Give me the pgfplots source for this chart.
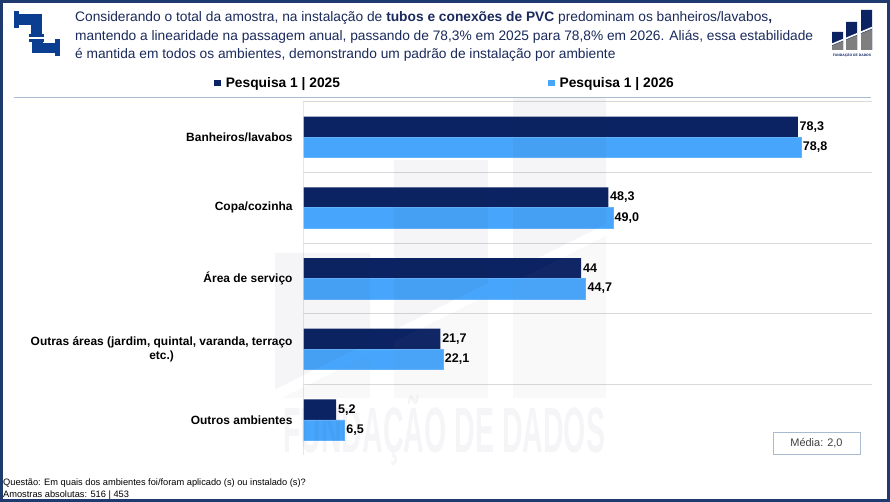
\documentclass[border=0pt]{standalone}
\usepackage{pgfplots}
\pgfplotsset{compat=1.18}
\usepackage{fontspec}
\setmainfont{Liberation Sans}
\definecolor{navy}{HTML}{0B2363}
\definecolor{lblue}{HTML}{47A6FB}
\definecolor{frame}{HTML}{1F3A6E}
\definecolor{hdr}{HTML}{1B2A5C}
\definecolor{sepl}{HTML}{A9BBD0}
\definecolor{gridc}{HTML}{D9D9D9}
\definecolor{pipe}{HTML}{0B3D91}
\definecolor{lgray}{HTML}{7F7F7F}
\definecolor{wm}{HTML}{2A2A60}
\begin{document}
\begin{tikzpicture}[x=1bp,y=1bp]
\path[use as bounding box] (0,0) rectangle (890,502);
\fill[white] (0,0) rectangle (890,502);
\begin{scope}[yshift=502bp, y=-1bp]
% left pipe icon
\fill[pipe] (14,11) rectangle (19,28);
\fill[pipe] (19,14) rectangle (40,25);
\fill[pipe] (31,14) rectangle (42,36);
\fill[pipe] (29,34) rectangle (44,37);
\fill[pipe] (29,39) rectangle (44,42);
\fill[pipe] (32,41) rectangle (43,52);
\fill[pipe] (32,43) rectangle (56,53);
\fill[pipe] (55,39) rectangle (60,56);
% right logo
\begin{scope}
\clip (832,32) rectangle (843,50) (846,22) rectangle (857,50) (861,10) rectangle (872,50);
\fill[navy] (828,5) rectangle (876,52);
\fill[lgray] (828,47.5) -- (876,27.5) -- (876,52) -- (828,52) -- cycle;
\draw[white, line width=1.6bp] (828,46) -- (876,26);
\end{scope}
\node[font=\fontsize{3.4}{4}\selectfont\bfseries, text=navy, inner sep=0] at (852,55) {FUNDAÇÃO DE DADOS};
% header text
\begin{scope}[every node/.style={anchor=base west, inner sep=0, text=hdr, font=\fontsize{13.8}{16}\selectfont}]
\node at (75,22) {Considerando o total da amostra, na instalação de \textbf{tubos e conexões de PVC} predominam os banheiros/lavabos\textbf{,}};
\node at (75,41) {mantendo a linearidade na passagem anual, passando de 78,3\% em 2025 para 78,8\% em 2026. Aliás, essa estabilidade};
\node at (75,59) {é mantida em todos os ambientes, demonstrando um padrão de instalação por ambiente};
\end{scope}
\draw[sepl, line width=0.9bp] (14,97) -- (871,97);
\end{scope}
% axis
\begin{axis}[
  at={(303.3bp,46.8bp)}, anchor=south west,
  scale only axis, width=568.4bp, height=353.5bp,
  xmin=0, xmax=90, ymin=-0.5, ymax=4.5,
  xbar, bar width=20.4bp,
  axis line style={draw=none},
  xtick=\empty,
  ytick={0,1,2,3,4},
  yticklabels={Outros ambientes,{Outras áreas (jardim, quintal, varanda, terraço\\etc.)},Área de serviço,Copa/cozinha,Banheiros/lavabos},
  yticklabel style={font=\fontsize{12}{14}\selectfont\bfseries, align=center, text=black, xshift=-3bp},
  ytick style={draw=none},
  extra y ticks={0.5,1.5,2.5,3.5,4.5},
  extra y tick labels={},
  extra y tick style={grid=major, major grid style={draw=gridc, line width=0.9bp}, tick style={draw=none}},
  nodes near coords,
  point meta=explicit symbolic,
  every node near coord/.style={anchor=west, inner sep=1.7bp, font=\fontsize{12.6}{14}\selectfont\bfseries, text=black},
  legend columns=2,
  legend style={at={(-0.157,1.053)}, anchor=west, draw=none, fill=none, inner sep=0pt,
    font=\fontsize{13.85}{16}\selectfont\bfseries, text=black,
    /tikz/every even column/.append style={column sep=206bp},
    /tikz/every odd column/.append style={column sep=3bp},
    legend cell align=left},
  legend image code/.code={\fill[#1, draw=none] (0bp,-3.2bp) rectangle (6.5bp,3.2bp);},
]
\addplot[fill=navy, draw=none, bar shift=10.2bp, nodes near coords style={yshift=10.2bp}] table[meta=l] {
x y l
78.3 4 78,3
48.3 3 48,3
44.0 2 44
21.7 1 21,7
5.2 0 5,2
};
\addlegendentry{Pesquisa 1 | 2025}
\addplot[fill=lblue, draw=lblue!85!white, line width=0.5bp, bar shift=-10.2bp, nodes near coords style={yshift=-10.2bp}] table[meta=l] {
x y l
78.8 4 78,8
49.0 3 49,0
44.7 2 44,7
22.1 1 22,1
6.5 0 6,5
};
\addlegendentry{Pesquisa 1 | 2026}
\draw[gridc, line width=0.8bp] (axis cs:0,-0.5) -- (axis cs:0,4.5);
\end{axis}
\begin{scope}[yshift=502bp, y=-1bp]
% watermark
\begin{scope}[fill opacity=0.045]
\begin{scope}
\clip (275,253) rectangle (370,398) (394,160) rectangle (488,398) (513,98) rectangle (606,398);
\fill[wm] (270,95) -- (610,95) -- (610,222) -- (270,392) -- cycle;
\fill[wm!60] (270,404) -- (610,234) -- (610,400) -- (270,400) -- cycle;
\end{scope}
\node[anchor=north west, inner sep=0, text=wm, text opacity=0.045] at (283,395) {\resizebox{322bp}{57bp}{\bfseries FUNDAÇÃO DE DADOS}};
\end{scope}
% media box
\draw[sepl, line width=0.9bp, fill=white] (773,432) rectangle (860,454);
\node[font=\fontsize{11}{13}\selectfont, text=black!75] at (816.5,443) {Média: 2,0};
% footer
\node[anchor=base west, inner sep=0, font=\fontsize{9.3}{10}\selectfont, text=black] at (3,486) {Questão: Em quais dos ambientes foi/foram aplicado (s) ou instalado (s)?};
\node[anchor=base west, inner sep=0, font=\fontsize{9.3}{10}\selectfont, text=black] at (3,498) {Amostras absolutas: 516 | 453};
% frame
\draw[frame, line width=3bp] (1.5,1.5) rectangle (888.5,500.5);
\end{scope}
\end{tikzpicture}
\end{document}
